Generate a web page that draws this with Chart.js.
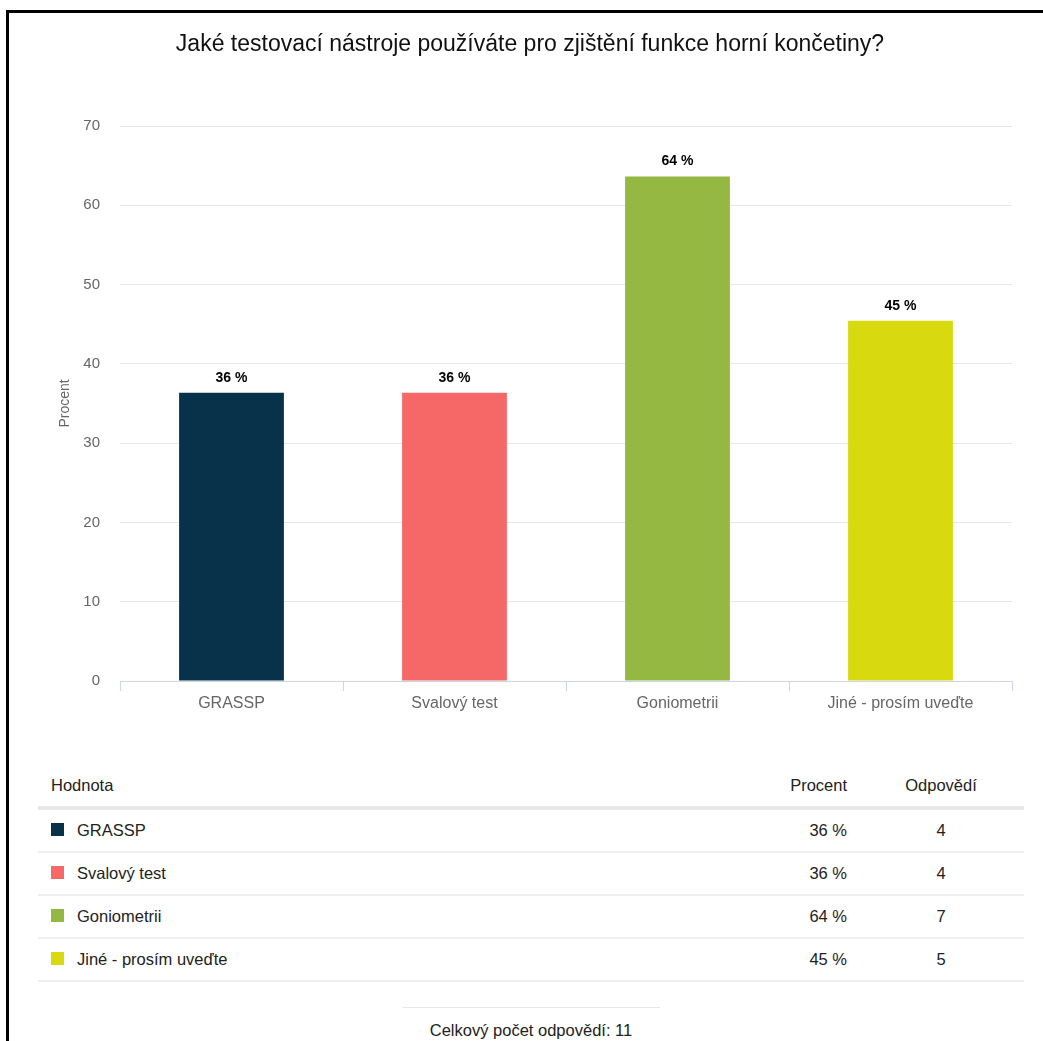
<!DOCTYPE html>
<html>
<head>
<meta charset="utf-8">
<script src="https://cdn.jsdelivr.net/npm/chart.js@4.4.1/dist/chart.umd.min.js"></script>
<style>
    body { margin: 0; background: #fff; width: 1043px; height: 1041px; overflow: hidden; position: relative; font-family: Arial, "Liberation Sans", sans-serif; color: #222; }
    .frame { position: absolute; left: 6px; top: 10px; right: 0; bottom: 0; border-top: 3px solid #000; border-left: 3px solid #000; }
    #chart { position: absolute; left: 0; top: 0; }
    .hdr { position: absolute; top: 775px; font-size: 16.5px; line-height: 20px; color: #222; }
    .hdrline { position: absolute; left: 38px; width: 986px; top: 806px; height: 4px; background: #e8e8e8; }
    .row { position: absolute; left: 38px; width: 986px; height: 43px; border-bottom: 2px solid #efefef; box-sizing: border-box; font-size: 16.5px; }
    .row .sw { position: absolute; left: 13px; top: 13px; width: 13px; height: 13px; }
    .row .name { position: absolute; left: 39px; top: 10px; line-height: 20px; }
    .row .pct { position: absolute; right: 177px; top: 10px; line-height: 20px; text-align: right; }
    .row .cnt { position: absolute; left: 863px; width: 80px; top: 10px; line-height: 20px; text-align: center; }
    .foot-line { position: absolute; left: 403px; width: 257px; top: 1007px; height: 1px; background: #e6e6e6; }
    .foot { position: absolute; left: 380px; width: 302px; top: 1020px; text-align: center; font-size: 16.5px; line-height: 20px; }
</style>
</head>
<body>
<div class="frame"></div>
<canvas id="chart" width="1043" height="740"></canvas>
<div id="table"></div>

<script>
// data
const categories = ['GRASSP', 'Svalový test', 'Goniometrii', 'Jiné - prosím uveďte'];
const percentValues = [36.36, 36.36, 63.64, 45.45];
const answerCounts = [4, 4, 7, 5];
const totalAnswers = 11;
const barColors = ['#08314a', '#f66868', '#95b843', '#d8d90f'];
const yTicks = [0, 10, 20, 30, 40, 50, 60, 70];

// popisky nad sloupci
const barLabels = {
    id: 'barLabels',
    afterDatasetsDraw(chart) {
        const ctx = chart.ctx;
        const meta = chart.getDatasetMeta(0);
        ctx.save();
        ctx.font = 'bold 14px Arial, "Liberation Sans", sans-serif';
        ctx.fillStyle = '#000';
        ctx.textAlign = 'center';
        ctx.textBaseline = 'middle';
        meta.data.forEach((bar, i) => {
            ctx.fillText(Math.round(percentValues[i]) + ' %', bar.x, bar.y - 15);
        });
        ctx.restore();
    }
};

const ctx = document.getElementById('chart').getContext('2d');
new Chart(ctx, {
    type: 'bar',
    data: {
        labels: categories,
        datasets: [{
            data: percentValues,
            backgroundColor: barColors,
            borderWidth: 0,
            barPercentage: 0.47,
            categoryPercentage: 1
        }]
    },
    options: {
        responsive: false,
        animation: false,
        layout: { padding: { left: 48, right: 31, top: 0, bottom: 19 } },
        plugins: {
            legend: { display: false },
            tooltip: { enabled: false },
            title: {
                display: true,
                text: 'Jaké testovací nástroje používáte pro zjištění funkce horní končetiny?',
                color: '#111',
                font: { family: 'Arial, "Liberation Sans", sans-serif', size: 23, weight: 'normal' },
                padding: { top: 31, bottom: 67.4 }
            }
        },
        scales: {
            x: {
                grid: { offset: true, drawOnChartArea: false, tickLength: 10, color: '#ccd6eb' },
                border: { color: '#ccd6eb' },
                ticks: { color: '#666', padding: 3, font: { family: 'Arial, "Liberation Sans", sans-serif', size: 16 } },
                afterFit(scale) { scale.height = 40; }
            },
            y: {
                min: 0,
                max: 70,
                afterBuildTicks(scale) { scale.ticks = yTicks.map(v => ({ value: v })); },
                grid: { color: '#e6e6e6', drawTicks: false },
                border: { display: false },
                ticks: { color: '#666', padding: 20, font: { family: 'Arial, "Liberation Sans", sans-serif', size: 15 } },
                title: {
                    display: true,
                    text: 'Procent',
                    color: '#666',
                    font: { family: 'Arial, "Liberation Sans", sans-serif', size: 14 },
                    padding: { top: 9, bottom: 0 }
                },
                afterFit(scale) { scale.width = 72; }
            }
        }
    },
    plugins: [barLabels]
});

// tabulka pod grafem
const table = document.getElementById('table');
let html = '<div class="hdr" style="left:51px">Hodnota</div>' +
    '<div class="hdr" style="left:767px;width:80px;text-align:right">Procent</div>' +
    '<div class="hdr" style="left:891px;width:100px;text-align:center">Odpovědí</div>' +
    '<div class="hdrline"></div>';
categories.forEach((name, i) => {
    html += `<div class="row" style="top:${810 + i * 43}px">
        <span class="sw" style="background:${barColors[i]}"></span>
        <span class="name">${name}</span>
        <span class="pct">${Math.round(percentValues[i])} %</span>
        <span class="cnt">${answerCounts[i]}</span>
    </div>`;
});
html += '<div class="foot-line"></div>';
html += `<div class="foot">Celkový počet odpovědí: ${totalAnswers}</div>`;
table.innerHTML = html;
</script>
</body>
</html>
